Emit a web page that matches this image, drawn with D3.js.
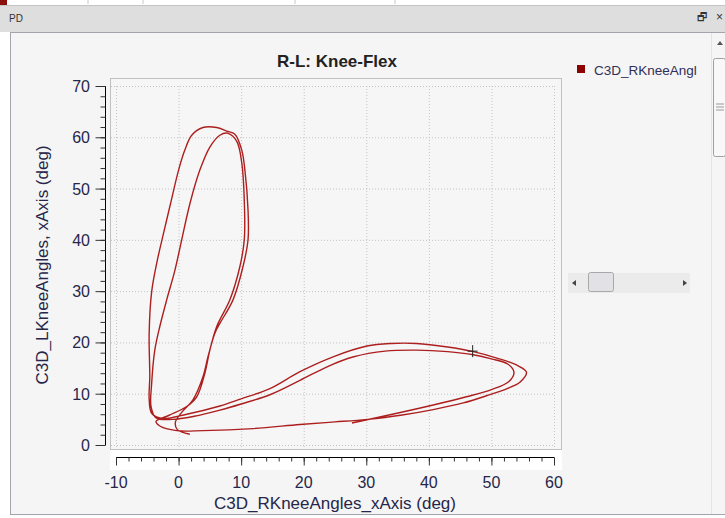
<!DOCTYPE html>
<html>
<head>
    <meta charset="utf-8">
    <script src="https://d3js.org/d3.v7.min.js"></script>
    <style>
        body { margin: 0; background: #ffffff; }
        svg text { font-family: "Liberation Sans", Arial, sans-serif; }
        .tick-label { font-size: 16px; fill: #26264a; }
        .axis-title { font-size: 17px; fill: #26264a; }
    </style>
</head>
<body>
<script type="text/javascript">

    // Right knee angle (x) and left knee angle (y), in order of the trace
    var rKnee = [27.7, 32.7, 40.7, 46.0, 50.0, 52.8, 53.6, 52.6, 50.0, 47.1, 43.0, 38.0, 33.0, 28.0, 24.0,
                 19.4, 14.6, 10.0, 6.6, 2.5, -1.0, -3.6, -4.4, -4.3, -3.8, -3.0, -1.9, -0.6, 0.5, 1.8,
                 3.4, 5.0, 6.6, 7.8, 9.3, 10.1, 10.5, 10.5, 9.8, 8.2, 6.1, 5.0, 4.2, 2.9, 1.3,
                 -1.5, -3.6, -3.0, -0.3, 3.9, 11.9, 19.4, 25.0, 30.1, 35.5, 40.7, 45.5, 49.2, 52.5, 54.6,
                 55.6, 54.0, 51.0, 47.1, 43.0, 38.0, 34.0, 30.1, 24.7, 19.4, 14.6, 10.0, 6.6, 1.3, -2.6,
                 -4.3, -4.7, -4.6, -4.7, -4.3, -3.4, -2.4, -1.2, 0.0, 1.0, 2.1, 3.9, 6.1, 7.7, 9.0,
                 10.1, 10.6, 11.1, 11.1, 10.3, 8.7, 6.6, 5.8, 4.7, 3.9, 2.3, 0.6, -0.5, -0.2, 1.8];
    var lKnee = [4.3, 5.6, 7.8, 9.4, 10.8, 12.4, 14.2, 15.8, 16.8, 17.6, 18.2, 18.5, 18.3, 17.2, 15.4,
                 12.6, 9.8, 8.0, 6.8, 5.6, 5.0, 5.3, 7.5, 12.0, 18.5, 23.1, 28.3, 34.0, 40.0, 47.0,
                 53.6, 58.1, 60.4, 60.8, 59.2, 55.0, 47.8, 40.0, 34.8, 28.3, 23.1, 18.5, 14.0, 9.4, 7.5,
                 5.8, 4.6, 3.7, 2.8, 2.8, 3.2, 4.0, 4.5, 5.0, 5.8, 6.9, 8.2, 9.6, 11.0, 12.3,
                 14.2, 15.6, 16.9, 18.2, 19.1, 19.8, 19.8, 19.3, 17.2, 14.3, 11.0, 9.0, 7.6, 6.0, 5.2,
                 6.2, 9.0, 13.3, 21.8, 29.9, 36.0, 41.3, 47.5, 53.6, 57.5, 60.4, 61.9, 61.9, 61.2, 60.6,
                 57.5, 53.6, 45.8, 40.0, 34.8, 28.3, 23.7, 21.8, 17.2, 13.3, 8.8, 6.5, 4.5, 3.0, 2.1];

    // Cursor marker position
    var cursorPoint = [47.0, 18.3];

    // Axis ticks
    var xTicks = [-10, 0, 10, 20, 30, 40, 50, 60];
    var yTicks = [0, 10, 20, 30, 40, 50, 60, 70];

    var chartTitle = "R-L: Knee-Flex";
    var xTitle = "C3D_RKneeAngles_xAxis (deg)";
    var yTitle = "C3D_LKneeAngles, xAxis (deg)";
    var legendLabel = "C3D_RKneeAngl";

    var width = 725, height = 518;

    var svg = d3.select("body").append("svg")
                .attr("width", width)
                .attr("height", height);

    // Window chrome
    svg.append("rect").attr("x", 0).attr("y", 0).attr("width", width).attr("height", height).attr("fill", "#ffffff");
    [88, 143, 295, 395].forEach(function(x) {
        svg.append("line").attr("x1", x).attr("x2", x).attr("y1", 0).attr("y2", 4).attr("stroke", "#c8c8c8");
    });
    svg.append("rect").attr("x", 0).attr("y", 0).attr("width", 7).attr("height", 12).attr("fill", "#8b1010");
    svg.append("rect").attr("x", 0).attr("y", 5).attr("width", width).attr("height", 27).attr("fill", "#dedede");
    svg.append("line").attr("x1", 0).attr("x2", width).attr("y1", 5.5).attr("y2", 5.5).attr("stroke", "#c4c4c4");
    svg.append("text").attr("x", 9).attr("y", 22).attr("font-size", 10).attr("fill", "#333").text("PD");
    svg.append("text").attr("x", 697).attr("y", 21).attr("font-size", 11).attr("fill", "#333").text("🗗");
    svg.append("text").attr("x", 716).attr("y", 21).attr("font-size", 12).attr("fill", "#333").text("×");

    // Content panel
    svg.append("rect").attr("x", 10.5).attr("y", 32.5).attr("width", 720).attr("height", 482)
       .attr("fill", "#f5f5f5").attr("stroke", "#a4a4ac");

    // Scales
    var x = d3.scaleLinear().domain([-10, 60]).range([116, 554]);
    var y = d3.scaleLinear().domain([0, 70]).range([445, 86]);

    // Plot frame and white strip under it
    svg.append("rect").attr("x", 110).attr("y", 450).attr("width", 452).attr("height", 20).attr("fill", "#ffffff");
    svg.append("rect").attr("x", 110.5).attr("y", 78.5).attr("width", 451).attr("height", 371)
       .attr("fill", "#f6f6f6").attr("stroke", "#c0c0c0");

    // Grid lines
    var grid = svg.append("g").attr("stroke", "#c4c4c4").attr("stroke-dasharray", "1,2");
    grid.selectAll(".gx").data(xTicks).enter().append("line")
        .attr("x1", function(d) { return x(d) + 0.5; }).attr("x2", function(d) { return x(d) + 0.5; })
        .attr("y1", y(70)).attr("y2", 450);
    grid.selectAll(".gy").data(yTicks).enter().append("line")
        .attr("y1", function(d) { return y(d) + 0.5; }).attr("y2", function(d) { return y(d) + 0.5; })
        .attr("x1", 111).attr("x2", x(60));

    // Y axis
    var yAxis = d3.axisLeft(y).tickValues(d3.range(0, 71, 2)).tickSize(5).tickFormat("");
    svg.append("g").attr("transform", "translate(105.5,0)").call(yAxis)
       .call(function(g) { g.select(".domain").attr("d", "M0," + y(70) + "V" + y(0)); })
       .selectAll("line").attr("stroke", "#333");
    svg.append("g").attr("transform", "translate(105.5,0)")
       .call(d3.axisLeft(y).tickValues(yTicks).tickSize(10).tickFormat(""))
       .call(function(g) { g.select(".domain").remove(); })
       .selectAll("line").attr("stroke", "#333");
    svg.selectAll(".ylab").data(yTicks).enter().append("text")
       .attr("class", "tick-label")
       .attr("x", 90).attr("y", function(d) { return y(d) + 6; })
       .attr("text-anchor", "end")
       .text(function(d) { return d; });

    // X axis
    svg.append("g").attr("transform", "translate(0,457.5)")
       .call(d3.axisBottom(x).tickValues(d3.range(-10, 61, 2)).tickSize(4).tickFormat(""))
       .call(function(g) { g.select(".domain").attr("d", "M" + x(-10) + ",0H" + x(60)); })
       .selectAll("line").attr("stroke", "#333");
    svg.append("g").attr("transform", "translate(0,457.5)")
       .call(d3.axisBottom(x).tickValues(xTicks).tickSize(8).tickFormat(""))
       .call(function(g) { g.select(".domain").remove(); })
       .selectAll("line").attr("stroke", "#333");
    svg.selectAll(".xlab").data(xTicks).enter().append("text")
       .attr("class", "tick-label")
       .attr("x", function(d) { return x(d); }).attr("y", 488)
       .attr("text-anchor", "middle")
       .text(function(d) { return d; });

    // Titles
    svg.append("text").attr("x", 337).attr("y", 67).attr("text-anchor", "middle")
       .attr("font-size", 17).attr("font-weight", "bold").attr("fill", "#222").text(chartTitle);
    svg.append("text").attr("class", "axis-title").attr("x", 335).attr("y", 509)
       .attr("text-anchor", "middle").text(xTitle);
    svg.append("text").attr("class", "axis-title")
       .attr("transform", "translate(48,265) rotate(-90)")
       .attr("text-anchor", "middle").text(yTitle);

    // The trace
    var points = rKnee.map(function(d, i) { return [d, lKnee[i]]; });
    var line = d3.line()
                 .x(function(d) { return x(d[0]); })
                 .y(function(d) { return y(d[1]); })
                 .curve(d3.curveCatmullRom.alpha(0.5));
    svg.append("path").datum(points)
       .attr("d", line)
       .attr("fill", "none")
       .attr("stroke", "#ad1f1f")
       .attr("stroke-width", 1.4)
       .attr("stroke-linejoin", "round");

    // Cursor cross
    var cx = x(cursorPoint[0]), cy = y(cursorPoint[1]);
    svg.append("path")
       .attr("d", "M" + (cx - 5) + "," + cy + "H" + (cx + 5) + "M" + cx + "," + (cy - 6) + "V" + (cy + 6))
       .attr("stroke", "#222").attr("stroke-width", 1);

    // Legend
    svg.append("rect").attr("x", 577).attr("y", 65).attr("width", 8).attr("height", 8).attr("fill", "#8b0000");
    svg.append("text").attr("x", 594).attr("y", 75).attr("font-size", 13.5).attr("fill", "#30305a").text(legendLabel);

    // Horizontal slider
    svg.append("rect").attr("x", 568).attr("y", 273).attr("width", 122).attr("height", 20).attr("fill", "#ebebeb");
    svg.append("path").attr("d", "M572,283 L576,280 L576,286 Z").attr("fill", "#444");
    svg.append("path").attr("d", "M687,283 L683,280 L683,286 Z").attr("fill", "#444");
    svg.append("rect").attr("x", 588.5).attr("y", 272.5).attr("width", 25).attr("height", 19).attr("rx", 2)
       .attr("fill", "#e2e2e6").attr("stroke", "#a8a8a8");

    // Vertical scrollbar
    svg.append("line").attr("x1", 711.5).attr("x2", 711.5).attr("y1", 33).attr("y2", 514).attr("stroke", "#e4e4e4");
    svg.append("path").attr("d", "M717,45 L720,41 L723,45 Z").attr("fill", "#555");
    svg.append("rect").attr("x", 713.5).attr("y", 58.5).attr("width", 12).attr("height", 98).attr("rx", 2)
       .attr("fill", "#f8f8f8").attr("stroke", "#a0a0a0");
    [104, 107, 110].forEach(function(yy) {
        svg.append("line").attr("x1", 716).attr("x2", 724).attr("y1", yy).attr("y2", yy).attr("stroke", "#999");
    });

</script>
</body>
</html>
